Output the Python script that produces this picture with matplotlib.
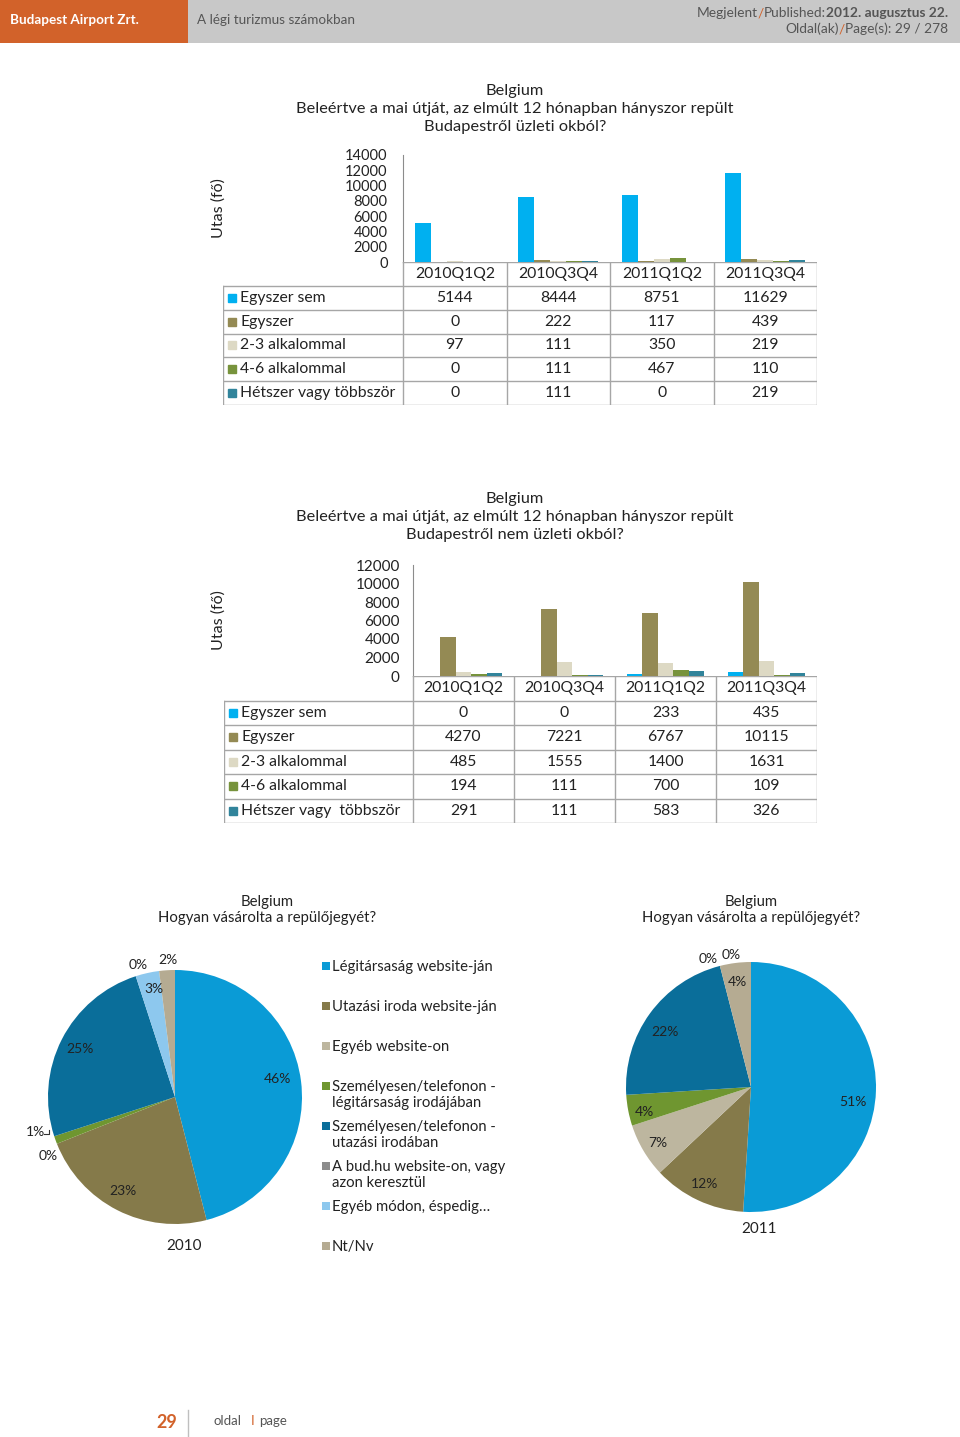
import numpy as np
import matplotlib.pyplot as plt
from matplotlib.patches import Rectangle
from matplotlib.lines import Line2D

# Belgium - business / leisure trips and ticket purchase (page 29)

W, H = 960, 1437                                               # page size in pixels
plt.rcParams['font.family'] = ['Lato', 'DejaVu Sans']

quarters = ['2010Q1Q2', '2010Q3Q4', '2011Q1Q2', '2011Q3Q4']
series1 = ['Egyszer sem', 'Egyszer', '2-3 alkalommal', '4-6 alkalommal', 'Hétszer vagy többször']
series2 = ['Egyszer sem', 'Egyszer', '2-3 alkalommal', '4-6 alkalommal', 'Hétszer vagy  többször']
bar_colors = ['#00B0F0', '#948A54', '#DDD9C4', '#77933C', '#31849B']

# business trips
biz_egyszer_sem = [5144, 8444, 8751, 11629]
biz_egyszer = [0, 222, 117, 439]
biz_2_3 = [97, 111, 350, 219]
biz_4_6 = [0, 111, 467, 110]
biz_7plus = [0, 111, 0, 219]

# non-business trips
lei_egyszer_sem = [0, 0, 233, 435]
lei_egyszer = [4270, 7221, 6767, 10115]
lei_2_3 = [485, 1555, 1400, 1631]
lei_4_6 = [194, 111, 700, 109]
lei_7plus = [291, 111, 583, 326]

# ticket purchase (percent)
pie_labels = ['Légitársaság website-ján', 'Utazási iroda website-ján', 'Egyéb website-on',
              'Személyesen/telefonon -\nlégitársaság irodájában',
              'Személyesen/telefonon -\nutazási irodában',
              'A bud.hu website-on, vagy\nazon keresztül', 'Egyéb módon, éspedig…', 'Nt/Nv']
pie_colors = ['#0A9BD6', '#857A4A', '#BDB69F', '#6F9630', '#0A6E9A', '#8C8C8C', '#8DC8EE', '#B5AB92']
pie_2010 = [46, 23, 0, 1, 25, 0, 3, 2]
pie_2011 = [51, 12, 7, 4, 22, 0, 0, 4]

txt = '#222222'
grid_c = '#A6A6A6'
orange = '#D2622A'
head_c = '#555555'


def box(x0, y0, x1, y1):                                       # pixel box -> figure rect
    return [x0 / W, 1 - y1 / H, (x1 - x0) / W, (y1 - y0) / H]


fig = plt.figure(figsize=(W / 100, H / 100), dpi=100)

# header band
fig.add_artist(Rectangle((0, 1 - 43 / H), 188 / W, 43 / H, transform=fig.transFigure,
                         color=orange, lw=0))
fig.add_artist(Rectangle((188 / W, 1 - 43 / H), 1 - 188 / W, 43 / H, transform=fig.transFigure,
                         color='#C8C8C8', lw=0))
fig.text(10 / W, 1 - 20 / H, 'Budapest Airport Zrt.', color='white', fontsize=9.7,
         fontweight='bold', va='center')
fig.text(197 / W, 1 - 20 / H, 'A légi turizmus számokban', color=head_c, fontsize=9.7,
         va='center')

renderer = fig.canvas.get_renderer()


def right_segments(x_right, y, parts):
    # coloured pieces of one line, right aligned
    x = x_right
    for s, c, wgt in reversed(parts):
        t = fig.text(x / W, 1 - y / H, s, color=c, fontweight=wgt, fontsize=9.9,
                     ha='right', va='center')
        x = x - t.get_window_extent(renderer).width


right_segments(948, 13, [('Megjelent', head_c, 'normal'), ('/', orange, 'normal'),
                         ('Published:', head_c, 'normal'),
                         ('2012. augusztus 22.', head_c, 'bold')])
right_segments(948, 29, [('Oldal(ak)', head_c, 'normal'), ('/', orange, 'normal'),
                         ('Page(s): 29 / 278', head_c, 'normal')])


def bar_table(title, title_y, top, bottom, left, axis_x, right, tab_bottom,
              ymax, vals, names, tick_pad, tick_size):
    ax = fig.add_axes(box(axis_x, top, right, bottom))
    n = len(quarters)
    xs = np.arange(n)
    w = 1 / 6.5                                                # gap width 150%
    for i, (v, c) in enumerate(zip(vals, bar_colors)):
        ax.bar(xs + (i - 2) * w, v, w, color=c, linewidth=0)
    ax.set_xlim(-0.5, n - 0.5)
    ax.set_ylim(0, ymax)
    ax.set_yticks(np.arange(0, ymax + 1, 2000))
    ax.set_xticks([])
    ax.tick_params(axis='y', length=0, pad=tick_pad, labelsize=tick_size, labelcolor=txt)
    for s in ['top', 'right', 'bottom']:
        ax.spines[s].set_visible(False)
    ax.spines['left'].set_color('#8C8C8C')
    ax.patch.set_alpha(0)
    ax.set_ylabel('Utas (fő)', fontsize=11.5, color=txt)
    ax.yaxis.set_label_coords((226 - axis_x) / (right - axis_x), 0.5)

    fig.text(515 / W, 1 - title_y / H, title, ha='center', va='center', fontsize=11.8,
             linespacing=1.32, color=txt)

    # data table under the axis
    tab = fig.add_axes(box(left, bottom, right, tab_bottom))
    cw = (right - axis_x) / n
    lo = -0.5 - (axis_x - left) / cw
    tab.set_xlim(lo, n - 0.5)
    tab.set_ylim(6, 0)
    tab.axis('off')
    tab.plot([-0.5, n - 0.5], [0, 0], color=grid_c, lw=1)
    for r in range(1, 7):
        tab.plot([lo, n - 0.5], [r, r], color=grid_c, lw=1)
    for k in range(n + 1):
        tab.plot([k - 0.5, k - 0.5], [0, 6], color=grid_c, lw=1)
    tab.plot([lo, lo], [1, 6], color=grid_c, lw=1)
    for k, q in enumerate(quarters):
        tab.text(k, 0.5, q, ha='center', va='center', fontsize=11.3, color=txt)
    for r, (nm, v, c) in enumerate(zip(names, vals, bar_colors), start=1):
        tab.plot([lo + 8.5 / cw], [r + 0.5], marker='s', markersize=6, color=c, lw=0)
        tab.text(lo + 17 / cw, r + 0.5, nm, ha='left', va='center', fontsize=11.3, color=txt)
        for k, val in enumerate(v):
            tab.text(k, r + 0.5, str(val), ha='center', va='center', fontsize=11.3, color=txt)


bar_table('Belgium\nBeleértve a mai útját, az elmúlt 12 hónapban hányszor repült\n'
          'Budapestről üzleti okból?', 109,
          155, 262, 223, 403, 817, 405, 14000,
          [biz_egyszer_sem, biz_egyszer, biz_2_3, biz_4_6, biz_7plus], series1, 11, 10.5)
bar_table('Belgium\nBeleértve a mai útját, az elmúlt 12 hónapban hányszor repült\n'
          'Budapestről nem üzleti okból?', 517,
          565, 676, 224, 413, 817, 823, 12000,
          [lei_egyszer_sem, lei_egyszer, lei_2_3, lei_4_6, lei_7plus], series2, 9.5, 11)


def draw_pie(cx, cy, r, vals, rad, nudge, title_x, year, year_x, year_y):
    ax = fig.add_axes(box(cx - r, cy - r, cx + r, cy + r))
    wedges, _ = ax.pie(vals, colors=pie_colors, startangle=90, counterclock=False,
                       wedgeprops=dict(linewidth=0))
    ax.set_xlim(-1, 1)
    ax.set_ylim(-1, 1)
    for wdg, v, rf, dn in zip(wedges, vals, rad, nudge):
        ang = np.deg2rad((wdg.theta1 + wdg.theta2) / 2 + dn)
        ax.text(rf * np.cos(ang), rf * np.sin(ang), '{}%'.format(v), ha='center',
                va='center', fontsize=10, color=txt)
    fig.text(title_x / W, 1 - 910 / H, 'Belgium\nHogyan vásárolta a repülőjegyét?',
             ha='center', va='center', fontsize=10.7, linespacing=1.2, color=txt)
    fig.text(year_x / W, 1 - year_y / H, year, ha='center', va='center', fontsize=11,
             color=txt)
    return ax


pa = draw_pie(175, 1097, 127, pie_2010, [0.82, 0.85, 1.10, 1.13, 0.84, 1.08, 0.87, 1.08],
              [3, -2, 3.5, -5.5, 0, -2.5, -1.5, -0.5], 267, '2010', 184, 1246)
# small leader for the 1% slice
pa.plot([-1.03, -0.99, -0.99], [-0.29, -0.29, -0.26], color='#333333', lw=0.8, clip_on=False)
draw_pie(751, 1087, 125, pie_2011, [0.82, 0.86, 0.87, 0.88, 0.82, 1.08, 1.07, 0.85],
         [-6.5, -0.5, 0.5, 2.5, 3.5, 4, -5.8, 0], 751, '2011', 759, 1229)

# pie legend
for i, (lab, c) in enumerate(zip(pie_labels, pie_colors)):
    y = 966 + 40 * i
    fig.add_artist(Rectangle((322 / W, 1 - (y + 4) / H), 8 / W, 8 / H,
                             transform=fig.transFigure, color=c, lw=0))
    fig.text(332 / W, 1 - (y - 6) / H, lab, ha='left', va='top', fontsize=10.7,
             linespacing=1.22, color=txt)

# footer
fig.text(167 / W, 1 - 1423 / H, '29', ha='center', va='center', fontsize=13,
         fontweight='bold', color=orange)
fig.add_artist(Line2D([188 / W, 188 / W], [1 - 1410 / H, 1 - 1437 / H],
                      transform=fig.transFigure, color='#BFBFBF', lw=1))
fig.text(214 / W, 1 - 1421 / H, 'oldal', ha='left', va='center', fontsize=9.5, color=head_c)
fig.text(251 / W, 1 - 1421 / H, 'I', ha='left', va='center', fontsize=9.5, color=orange)
fig.text(259 / W, 1 - 1421 / H, 'page', ha='left', va='center', fontsize=9.5, color=head_c)

fig.savefig('out.png', dpi=100)
